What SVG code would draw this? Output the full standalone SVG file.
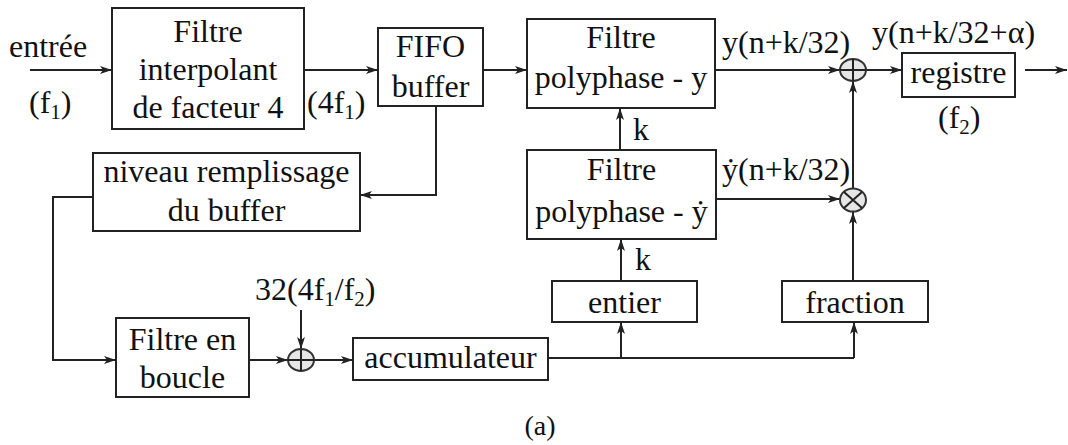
<svg xmlns="http://www.w3.org/2000/svg" width="1068" height="445" viewBox="0 0 1068 445">
<defs>
<style>
text{font-family:"Liberation Serif","DejaVu Serif",serif;font-size:32px;fill:#111}
.c{text-anchor:middle}
.s{font-size:21px}
rect{fill:#fff;stroke:#222;stroke-width:2}
.op{fill:#e6e6e6;stroke:#333;stroke-width:2}
.w{fill:none;stroke:#222;stroke-width:2}
.a{marker-end:url(#ah)}
</style>
<marker id="ah" viewBox="0 0 12 8" refX="12" refY="4" markerWidth="12" markerHeight="8" markerUnits="userSpaceOnUse" orient="auto">
<path d="M0,0 L12,4 L0,8 L3,4 z" fill="#222"/>
</marker>
</defs>
<rect width="1068" height="445" fill="#fff" style="stroke:none"/>
<g id="connectors">
<path class="w a" d="M30,70 H112"/>
<path class="w a" d="M304,70 H378"/>
<path class="w a" d="M483,70 H527"/>
<path class="w a" d="M715,70 H840"/>
<path class="w a" d="M866,70 H902"/>
<path class="w a" d="M1025,70 H1067"/>
<path class="w a" d="M620,150 V108"/>
<path class="w a" d="M436,106 V195 H360"/>
<path class="w a" d="M93,197 H53 V360 H116"/>
<path class="w a" d="M249,360 H288"/>
<path class="w a" d="M301,310 V349"/>
<path class="w a" d="M314,360 H353"/>
<path class="w" d="M548,358 H854"/>
<path class="w a" d="M621,358 V322"/>
<path class="w a" d="M854,358 V322"/>
<path class="w a" d="M621,281 V239"/>
<path class="w a" d="M716,199 H840"/>
<path class="w a" d="M853,281 V212"/>
<path class="w a" d="M853,189 V81"/>
</g>
<g id="interp">
<rect x="112" y="8" width="192" height="121"/>
<text class="c" x="208" y="42">Filtre</text>
<text class="c" x="208" y="80">interpolant</text>
<text class="c" x="208" y="118">de facteur 4</text>
</g>
<g id="entree">
<text class="c" x="48" y="57">entrée</text>
<text x="29" y="113">(f<tspan class="s" dy="6">1</tspan><tspan dy="-6">)</tspan></text>
</g>
<g id="lbl4f1">
<text x="307" y="113">(4f<tspan class="s" dy="6">1</tspan><tspan dy="-6">)</tspan></text>
</g>
<g id="fifo">
<rect x="378" y="28" width="105" height="78"/>
<text class="c" x="430.5" y="57">FIFO</text>
<text class="c" x="430.5" y="97">buffer</text>
</g>
<g id="polyy">
<rect x="527" y="19" width="188" height="89"/>
<text class="c" x="621" y="48">Filtre</text>
<text class="c" x="621" y="88">polyphase - y</text>
</g>
<g id="lbly">
<text x="722" y="53">y(n+k/32)</text>
</g>
<g id="sum1">
<ellipse class="op" cx="853" cy="70" rx="13" ry="11"/>
<path class="w" d="M840,70 H866 M853,59 V81"/>
</g>
<g id="lblya">
<text x="872" y="43">y(n+k/32+α)</text>
</g>
<g id="registre">
<rect x="902" y="53" width="113" height="44"/>
<text class="c" x="958.5" y="83">registre</text>
<text x="938" y="128">(f<tspan class="s" dy="6">2</tspan><tspan dy="-6">)</tspan></text>
</g>
<g id="k1"><text x="633" y="140">k</text></g>
<g id="niveau">
<rect x="93" y="153" width="267" height="78"/>
<text class="c" x="226.5" y="182">niveau remplissage</text>
<text class="c" x="226.5" y="221">du buffer</text>
</g>
<g id="polyyd">
<rect x="527" y="150" width="189" height="89"/>
<text class="c" x="621.5" y="180">Filtre</text>
<text class="c" x="621.5" y="222">polyphase - ẏ</text>
</g>
<g id="lblyd">
<text x="722" y="180">ẏ(n+k/32)</text>
</g>
<g id="mul">
<ellipse class="op" cx="853" cy="200" rx="13" ry="11.5"/>
<path class="w" d="M844,192 L862,208 M862,192 L844,208"/>
</g>
<g id="k2"><text x="635" y="270">k</text></g>
<g id="entier">
<rect x="552" y="281" width="145" height="41"/>
<text class="c" x="624.5" y="313">entier</text>
</g>
<g id="fraction">
<rect x="782" y="281" width="146" height="41"/>
<text class="c" x="855" y="313">fraction</text>
</g>
<g id="lbl32">
<text x="255" y="300">32(4f<tspan class="s" dy="6">1</tspan><tspan dy="-6">/f</tspan><tspan class="s" dy="6">2</tspan><tspan dy="-6">)</tspan></text>
</g>
<g id="boucle">
<rect x="116" y="318" width="133" height="79"/>
<text class="c" x="182.5" y="350">Filtre en</text>
<text class="c" x="182.5" y="388">boucle</text>
</g>
<g id="sum2">
<ellipse class="op" cx="301" cy="360" rx="13" ry="11"/>
<path class="w" d="M288,360 H314 M301,349 V371"/>
</g>
<g id="accu">
<rect x="353" y="338" width="195" height="42"/>
<text class="c" x="450.5" y="368">accumulateur</text>
</g>
<g id="caption"><text class="c" x="540" y="435" style="font-size:28px">(a)</text></g>
</svg>
